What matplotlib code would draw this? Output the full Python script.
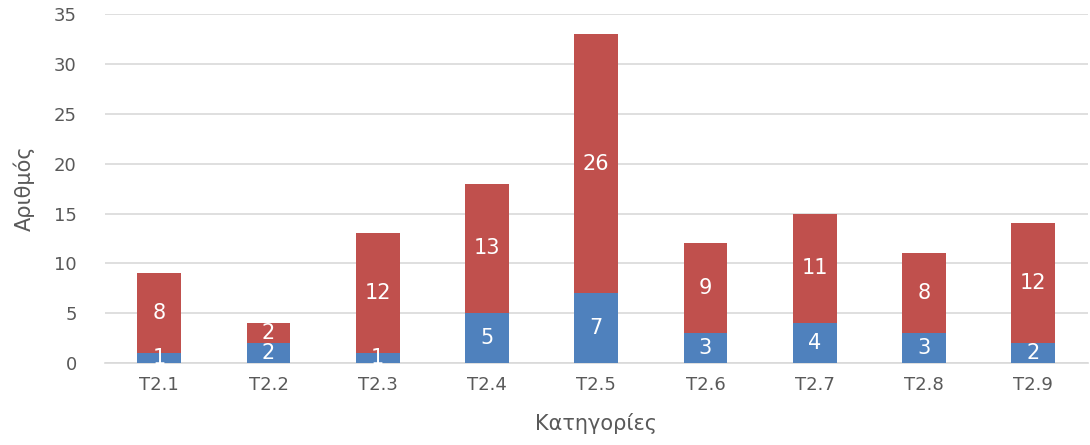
import matplotlib
matplotlib.use("Agg")
import matplotlib.pyplot as plt
import numpy as np

categories = ["T2.1", "T2.2", "T2.3", "T2.4", "T2.5", "T2.6", "T2.7", "T2.8", "T2.9"]
blue_vals = [1, 2, 1, 5, 7, 3, 4, 3, 2]
red_vals = [8, 2, 12, 13, 26, 9, 11, 8, 12]

BLUE = "#4F81BD"
RED = "#C0504D"
GRAY = "#595959"

plt.rcParams.update({"font.family": "DejaVu Sans"})

fig = plt.figure(figsize=(10.9, 4.45), dpi=100)
ax = fig.add_axes([0.096, 0.184, 0.902, 0.7845])

x = np.arange(len(categories))
w = 0.4
b1 = ax.bar(x, blue_vals, width=w, color=BLUE, zorder=3)
b2 = ax.bar(x, red_vals, width=w, bottom=blue_vals, color=RED, zorder=3)

for bars in (b1, b2):
    for rect in bars:
        h = rect.get_height()
        cy = rect.get_y() + h / 2
        ax.text(rect.get_x() + rect.get_width() / 2, cy, f"{int(h)}",
                ha="center", va="center", color="white", fontsize=15, zorder=4)

ax.set_xlim(-0.5, len(categories) - 0.5)
ax.set_ylim(0, 35)
ax.set_yticks(range(0, 36, 5))
ax.set_xticks(x)
ax.set_xticklabels(categories)
ax.yaxis.grid(True, color="#D9D9D9", lw=1.2, zorder=0)
ax.set_axisbelow(True)
for s in ["top", "right", "left"]:
    ax.spines[s].set_visible(False)
ax.spines["bottom"].set_color("#D9D9D9")
ax.spines["bottom"].set_linewidth(1.2)
ax.tick_params(axis="both", length=0, labelsize=13, colors=GRAY)
ax.tick_params(axis="y", pad=20)
ax.tick_params(axis="x", pad=9)
ax.set_ylabel("Αριθμός", fontsize=15, color=GRAY, labelpad=14)
ax.set_xlabel("Κατηγορίες", fontsize=15, color=GRAY, labelpad=14)

fig.savefig("out.png", dpi=100)
